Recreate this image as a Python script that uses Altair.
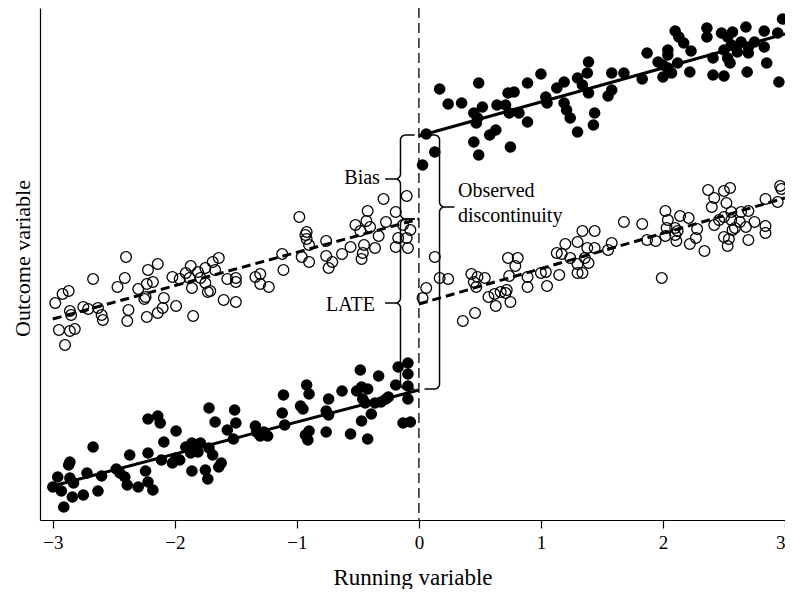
import altair as alt
import numpy as np
import pandas as pd

# ---------------- data ----------------
filled_left_x = [-1.72,-1.51,-2.22,-2.14,-2.12,-1.67,-1.50,-1.99,-1.57,-2.67,-2.09,-1.91,-1.86,-1.79,-1.87,-1.81,-1.52,-2.37,-2.22,-2.11,
                 -1.99,-1.96,-2.02,-1.72,-1.69,-1.62,-1.64,-2.86,-2.87,-1.86,-1.75,-1.73,-2.24,-2.48,-2.45,-2.41,-2.72,-2.60,-2.96,-2.86,
                 -2.83,-3.00,-2.93,-2.39,-2.30,-2.22,-2.18,-2.63,-2.75,-2.84,-2.91,
                 -0.17,-0.09,-0.09,-0.48,-0.33,-0.92,-0.90,-1.11,-0.63,-0.51,-0.47,-0.42,-0.19,-0.09,-0.74,-0.46,-0.44,-0.36,-0.31,-0.27,
                 -0.25,-0.09,-0.97,-0.95,-1.12,-0.76,-0.74,-0.39,-0.47,-0.13,-0.07,-1.34,-1.33,-1.10,-1.27,-1.24,-1.30,-0.90,-0.93,-0.91,
                 -0.76,-0.56,-0.42]
filled_left_y = [11.1,10.9,10.0,10.3,9.6,9.7,9.6,8.8,8.9,7.2,7.7,7.2,7.6,7.6,6.6,6.7,8.0,6.4,6.6,5.9,
                 6.1,5.9,5.6,7.1,6.4,5.6,5.2,5.7,5.4,4.8,4.9,4.0,4.8,5.0,4.6,4.2,4.6,4.3,4.2,4.1,
                 3.6,3.2,2.8,3.4,3.2,3.7,2.9,2.8,2.4,2.2,1.2,
                 15.2,15.6,14.5,14.9,14.3,13.4,12.5,12.4,12.8,12.8,13.2,13.0,13.4,13.3,12.0,12.0,11.6,11.6,11.7,12.0,
                 12.2,12.0,11.3,11.0,10.6,10.8,10.4,10.5,9.8,9.6,9.7,9.3,8.7,9.4,8.7,8.3,8.3,8.8,8.4,7.9,
                 8.7,8.5,8.0]

open_left_x = [-2.40,-2.14,-2.22,-1.64,-1.69,-1.75,-1.87,-1.91,-1.81,-1.79,-1.88,-1.86,-1.75,-1.73,-1.71,-1.67,-1.57,-1.50,-1.50,-2.02,
               -1.96,-2.41,-2.47,-2.67,-2.18,-2.23,-2.30,-2.87,-2.92,-2.98,-2.24,-2.25,-2.09,-1.60,-1.50,-1.99,-2.75,-2.71,-2.63,-2.10,
               -2.14,-2.38,-2.86,-2.85,-2.60,-2.59,-1.85,-2.23,-2.39,-2.95,-2.86,-2.82,-2.90,
               -0.10,-0.29,-0.98,-0.42,-0.43,-0.40,-0.19,-0.52,-0.48,-0.27,-0.13,-0.07,-0.92,-0.93,-0.92,-0.90,-0.76,-0.33,-0.17,-0.10,
               -0.56,-0.45,-0.19,-0.09,-0.36,-0.63,-1.12,-0.76,-0.71,-0.74,-0.96,-0.90,-0.46,-0.47,-1.11,-1.30,-1.34,-1.30,-1.23]
open_left_y = [26.2,25.5,24.9,26.1,25.7,25.1,25.3,24.6,24.7,24.1,24.1,23.1,23.6,22.7,22.8,24.9,24.0,24.1,23.7,24.2,
               24.0,24.1,23.2,24.0,23.7,23.5,23.0,22.8,22.5,21.6,22.2,22.0,22.1,21.9,21.7,21.3,21.2,21.0,21.1,21.1,
               20.6,20.9,20.8,20.4,20.4,19.9,20.3,20.2,19.8,18.9,18.8,19.0,17.4,
               32.3,32.0,30.2,30.8,29.8,29.2,30.7,29.4,28.8,29.7,29.4,28.9,28.7,28.4,28.0,27.4,27.8,28.3,28.1,28.1,
               27.2,27.4,27.2,27.1,27.1,26.5,26.5,26.3,25.7,25.1,26.2,25.7,26.6,26.0,24.9,24.5,24.2,23.5,23.2]

filled_right_x = [1.39,1.38,1.58,1.00,0.49,0.17,0.89,1.19,1.13,1.30,1.34,1.39,0.73,0.78,1.04,1.05,1.55,0.24,0.35,0.52,
                  0.64,0.71,0.74,0.82,1.19,1.21,1.24,0.45,0.48,0.47,1.44,0.89,1.43,0.63,0.58,1.30,0.06,0.45,0.13,0.75,
                  0.49,0.03,
                  2.98,2.68,2.36,2.83,2.94,2.10,2.13,2.17,2.48,2.57,2.53,2.36,2.64,2.75,2.70,2.56,2.50,2.61,2.70,2.83,
                  2.04,2.04,2.23,1.87,2.41,2.53,2.55,1.96,2.00,2.12,2.85,2.04,2.07,2.00,2.22,1.68,2.41,2.50,2.69,1.83,
                  2.95,1.58]
filled_right_y = [45.7,44.6,44.6,44.5,43.6,43.0,43.6,43.7,43.1,44.1,43.4,42.6,42.6,42.7,42.2,41.6,42.3,41.5,41.6,41.2,
                  41.4,41.4,40.6,40.6,41.6,40.9,40.1,40.6,40.1,39.6,40.6,39.7,39.4,38.9,38.4,38.7,38.5,37.7,36.7,37.2,
                  36.4,35.4,
                  50.0,49.2,49.1,48.8,48.6,48.8,48.2,47.6,48.6,48.7,48.2,48.2,47.7,47.7,47.2,47.4,46.9,46.7,46.6,47.2,
                  46.9,46.4,46.8,46.6,46.1,46.1,45.6,45.7,45.4,45.6,45.6,45.1,44.6,44.2,44.7,44.6,44.4,44.3,44.7,44.0,
                  43.7,42.9]

open_right_x = [1.34,1.44,1.30,1.20,1.38,1.44,1.55,1.13,1.17,0.13,0.73,0.81,1.24,1.36,1.39,1.30,0.79,1.00,1.04,1.30,
                1.34,1.15,0.43,0.48,0.54,0.74,0.89,0.17,0.24,0.45,0.47,0.06,0.89,1.05,0.72,0.71,0.67,0.62,0.57,0.03,
                0.75,0.63,0.46,0.36,
                2.96,2.97,2.55,2.50,2.37,2.42,2.84,2.94,2.52,2.40,2.02,2.56,2.64,2.70,2.50,2.46,2.56,2.14,2.21,2.04,
                1.68,1.83,2.75,2.63,2.68,2.42,2.59,2.57,2.84,2.84,2.03,2.10,2.12,2.28,2.02,2.10,2.27,2.50,2.54,1.87,
                1.94,2.11,2.70,1.58,2.22,2.53,2.34,1.99]
open_right_y = [28.8,28.8,27.7,27.5,27.1,27.1,26.9,26.6,26.5,26.2,26.1,26.1,26.1,26.1,25.6,25.5,25.3,24.6,24.7,24.6,
                24.6,24.4,24.5,24.2,24.1,24.3,24.2,24.1,24.0,23.7,23.2,23.1,23.2,23.3,22.9,22.6,22.7,22.5,22.2,22.1,
                21.7,21.3,20.6,19.8,
                33.3,33.0,33.1,32.8,32.9,32.1,32.0,31.7,31.6,31.2,30.8,30.7,30.7,30.8,30.2,29.9,29.9,30.3,30.1,29.9,
                29.7,29.5,29.7,29.7,29.2,29.4,29.1,28.9,29.3,28.6,29.1,29.1,28.8,29.0,28.3,28.4,28.1,28.2,28.0,27.9,
                27.8,27.8,27.9,27.6,27.5,27.3,26.8,24.1]

# fitted lines (endpoints)
fit_left_x = [-3.0, 0.0]
fit_treated_left = [3.3, 12.9]
fit_control_left = [20.0, 30.0]
fit_right_x = [0.0, 3.0]
fit_treated_right = [38.3, 48.5]
fit_control_right = [21.5, 32.1]

# braces
brace_names = ["Bias", "LATE", "Observed"]
brace_x_spine = [-0.151, -0.151, 0.169]
brace_x_tip = [-0.277, -0.277, 0.291]
brace_x_end = [-0.035, -0.035, 0.046]
brace_y_top = [38.4, 30.0, 38.4]
brace_y_tip = [34.0, 21.6, 31.2]
brace_y_bottom = [30.0, 13.0, 13.0]

# annotation labels
label_text = ["Bias", "LATE", "Observed", "discontinuity"]
label_x = [-0.32, -0.36, 0.32, 0.32]
label_y = [33.5, 20.8, 32.2, 29.7]
label_align = ["right", "right", "left", "left"]

x_ticks = [-3, -2, -1, 0, 1, 2, 3]

# ---------------- layout ----------------
W, H = 745, 512
XDOM = [-3.105, 3.0]
YDOM = [-0.1, 51.1]
KX = W / (XDOM[1] - XDOM[0])
KY = H / (YDOM[1] - YDOM[0])
FONT = "Liberation Serif"

for a, b in [(filled_left_x, filled_left_y), (open_left_x, open_left_y),
             (filled_right_x, filled_right_y), (open_right_x, open_right_y)]:
    assert len(a) == len(b), (len(a), len(b))

pts_filled = pd.DataFrame({"x": filled_left_x + filled_right_x,
                           "y": filled_left_y + filled_right_y})
pts_open = pd.DataFrame({"x": open_left_x + open_right_x,
                         "y": open_left_y + open_right_y})

solid_df = pd.DataFrame({
    "x": fit_left_x + fit_right_x,
    "y": fit_treated_left + fit_treated_right,
    "seg": ["L", "L", "R", "R"]})
dashed_df = pd.DataFrame({
    "x": fit_left_x + fit_right_x,
    "y": fit_control_left + fit_control_right,
    "seg": ["L", "L", "R", "R"]})


def brace_points(xv, xtip, xend, ytop, ytip, ybot, r=5.0, n=8):
    d = 1 if xend > xv else -1
    rx, ry = r / KX, r / KY
    pts = [(xend, ytop)]

    def arc(cx, cy, a0, a1):
        for a in np.linspace(np.radians(a0), np.radians(a1), n):
            pts.append((cx + rx * np.cos(a), cy + ry * np.sin(a)))

    arc(xv + d * rx, ytop - ry, 90, 90 + d * 90)
    arc(xv - d * rx, ytip + ry, 90 - 90 * d, 90 - 90 * d - d * 90)
    pts.append((xtip, ytip))
    arc(xv - d * rx, ytip - ry, 90, 90 - d * 90)
    arc(xv + d * rx, ybot + ry, 90 + 90 * d, 90 + 90 * d + d * 90)
    pts.append((xend, ybot))
    return pts


rows = []
for i, name in enumerate(brace_names):
    p = brace_points(brace_x_spine[i], brace_x_tip[i], brace_x_end[i],
                     brace_y_top[i], brace_y_tip[i], brace_y_bottom[i])
    for k, (bx, by) in enumerate(p):
        rows.append({"x": bx, "y": by, "brace": name, "idx": k})
brace_df = pd.DataFrame(rows)

labels_df = pd.DataFrame({"x": label_x, "y": label_y, "text": label_text, "align": label_align})

xscale = alt.Scale(domain=XDOM, nice=False, zero=False)
yscale = alt.Scale(domain=YDOM, nice=False, zero=False)

xaxis = alt.Axis(values=x_ticks, format="d", grid=False, tickSize=8, tickColor="black",
                 domainColor="black", domainWidth=1.2, tickWidth=1.2,
                 labelFont=FONT, labelFontSize=19, labelColor="black", labelPadding=5,
                 title="Running variable", titleFont=FONT, titleFontSize=23,
                 titleFontWeight="normal", titleColor="black",
                 titleY=64, titleBaseline="alphabetic")
yaxis = alt.Axis(labels=False, ticks=False, grid=False, domainColor="black", domainWidth=1.2,
                 title="Outcome variable", titleFont=FONT, titleFontSize=22,
                 titleFontWeight="normal", titleColor="black",
                 titleAngle=270, titleX=-18, titleY=H / 2 - 6, titleAlign="center",
                 titleBaseline="middle")

X = alt.X("x:Q", scale=xscale, axis=xaxis)
Y = alt.Y("y:Q", scale=yscale, axis=yaxis)

filled_layer = alt.Chart(pts_filled).mark_circle(size=135, color="black", opacity=1).encode(x=X, y=Y)
open_layer = alt.Chart(pts_open).mark_point(shape="circle", filled=False, size=115, color="black",
                                            strokeWidth=1.3, opacity=1).encode(x=X, y=Y)

solid_layer = alt.Chart(solid_df).mark_line(color="black", strokeWidth=3).encode(x=X, y=Y, detail="seg:N")
dashed_layer = alt.Chart(dashed_df).mark_line(color="black", strokeWidth=3, strokeDash=[9, 5]).encode(
    x=X, y=Y, detail="seg:N")

cutoff = alt.Chart(pd.DataFrame({"x": [0.0]})).mark_rule(color="black", strokeWidth=1.3,
                                                         strokeDash=[10, 5]).encode(x=X)

brace_layer = alt.Chart(brace_df).mark_line(color="black", strokeWidth=1.5, interpolate="linear").encode(
    x=X, y=Y, detail="brace:N", order="idx:Q")

text_right = alt.Chart(labels_df[labels_df["align"] == "right"]).mark_text(
    font=FONT, fontSize=20, align="right", baseline="alphabetic", color="black").encode(x=X, y=Y, text="text:N")
text_left = alt.Chart(labels_df[labels_df["align"] == "left"]).mark_text(
    font=FONT, fontSize=20, align="left", baseline="alphabetic", color="black").encode(x=X, y=Y, text="text:N")

chart = alt.layer(
    filled_layer, open_layer, solid_layer, dashed_layer, cutoff, brace_layer, text_right, text_left
).properties(
    width=W, height=H,
    autosize=alt.AutoSizeParams(type="none"),
    padding={"left": 32, "top": 0, "right": 0, "bottom": 69},
    background="white",
).configure_view(strokeWidth=0)

chart.save("out.html", embed_options={"renderer": "svg", "actions": False})
